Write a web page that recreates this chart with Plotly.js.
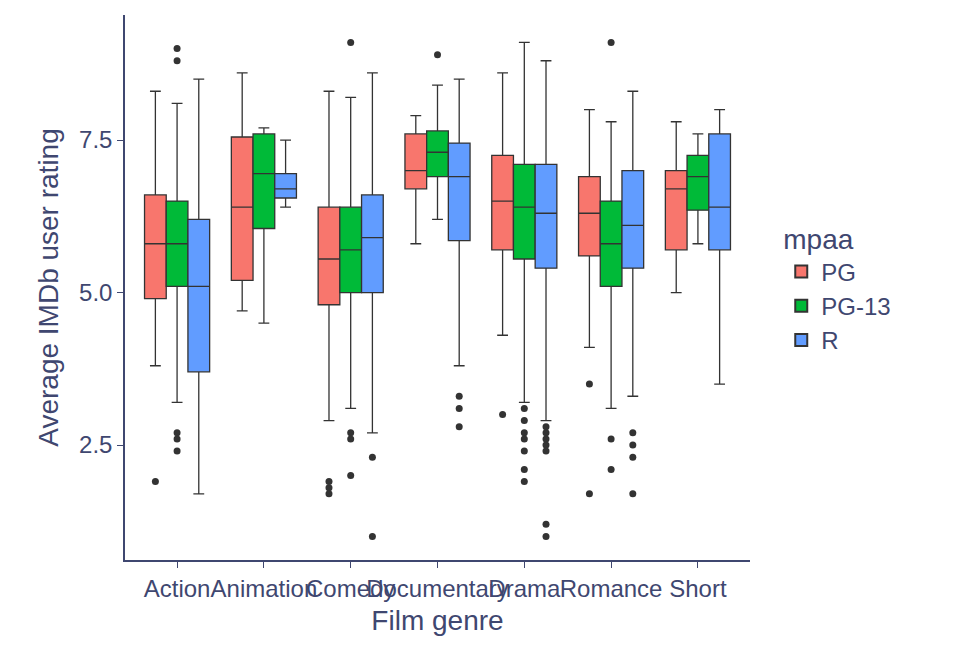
<!DOCTYPE html>
<html><head><meta charset="utf-8">
<script src="https://cdn.plot.ly/plotly-3.0.1.min.js"></script>
<style>body{margin:0;background:#fff}</style></head>
<body><div id="c" style="width:960px;height:672px"></div>
<script>
const genres=["Action","Animation","Comedy","Documentary","Drama","Romance","Short"];
const ratings=["PG","PG-13","R"];
const colors=["#F8766D","#00BA38","#619CFF"];
const q1={PG:[4.9,5.2,4.8,6.7,5.7,5.6,5.7],"PG-13":[5.1,6.05,5.0,6.9,5.55,5.1,6.35],R:[3.7,6.55,5.0,5.85,5.4,5.4,5.7]};
const med={PG:[5.8,6.4,5.55,7.0,6.5,6.3,6.7],"PG-13":[5.8,6.95,5.7,7.3,6.4,5.8,6.9],R:[5.1,6.7,5.9,6.9,6.3,6.1,6.4]};
const q3={PG:[6.6,7.55,6.4,7.6,7.25,6.9,7.0],"PG-13":[6.5,7.6,6.4,7.65,7.1,6.5,7.25],R:[6.2,6.95,6.6,7.45,7.1,7.0,7.6]};
const lo={PG:[3.8,4.7,2.9,5.8,4.3,4.1,5.0],"PG-13":[3.2,4.5,3.1,6.2,3.2,3.1,5.8],R:[1.7,6.4,2.7,3.8,2.9,3.3,3.5]};
const hi={PG:[8.3,8.6,8.3,7.9,8.6,8.0,7.8],"PG-13":[8.1,7.7,8.2,8.4,9.1,7.8,7.6],R:[8.5,7.5,8.6,8.5,8.8,8.3,8.0]};
const outliers={
PG:[[1.9],[],[1.9,1.8,1.7],[],[3.0],[3.5,1.7],[]],
"PG-13":[[2.7,2.6,2.4,8.8,9.0],[],[2.7,2.6,2.0,9.1],[8.9],[3.1,2.9,2.7,2.6,2.4,2.1,1.9],[2.6,2.1,9.1],[]],
R:[[],[],[2.3,1.0],[3.3,3.1,2.8],[2.8,2.7,2.6,2.5,2.4,1.2,1.0],[2.7,2.5,2.3,1.7],[]]};
const idx=genres.map((g,i)=>i);
const traces=[];
ratings.forEach((r,k)=>{
  traces.push({type:"box",name:r,x:idx,q1:q1[r],median:med[r],q3:q3[r],lowerfence:lo[r],upperfence:hi[r],
    fillcolor:colors[k],line:{color:"#333333",width:1.3},boxpoints:false,offsetgroup:r,hoverinfo:"y"});
});
ratings.forEach((r,k)=>{
  const xs=[],ys=[];
  outliers[r].forEach((arr,i)=>arr.forEach(v=>{xs.push(i+(k-1)*0.25);ys.push(v);}));
  traces.push({type:"scatter",mode:"markers",x:xs,y:ys,marker:{color:"#333333",size:7},showlegend:false,hoverinfo:"y"});
});
const tc="#3f4770";
Plotly.newPlot("c",traces,{
  width:960,height:672,paper_bgcolor:"#fff",plot_bgcolor:"#fff",
  margin:{l:125,r:210,t:15,b:112},
  boxmode:"group",boxgap:0.25,boxgroupgap:0,
  font:{family:"Liberation Sans, Arial",color:tc},
  xaxis:{range:[-0.6,6.6],tickvals:idx,ticktext:genres,tickangle:0,automargin:false,showgrid:false,zeroline:false,showline:true,linecolor:tc,linewidth:1.5,
    ticks:"outside",ticklen:6,tickcolor:tc,tickfont:{size:24,color:tc},title:{text:"Film genre",font:{size:28,color:tc},standoff:10}},
  yaxis:{range:[0.615,9.55],tickvals:[2.5,5,7.5],ticktext:["2.5","5.0","7.5"],showgrid:false,zeroline:false,showline:true,linecolor:tc,linewidth:1.5,
    ticks:"outside",ticklen:6,tickcolor:tc,tickfont:{size:24,color:tc},title:{text:"Average IMDb user rating",font:{size:28,color:tc},standoff:12}},
  legend:{x:1.05,y:0.5,yanchor:"middle",title:{text:"mpaa",font:{size:28,color:tc}},font:{size:24,color:tc},tracegroupgap:8,itemsizing:"constant"}
},{displayModeBar:false});
</script></body></html>
